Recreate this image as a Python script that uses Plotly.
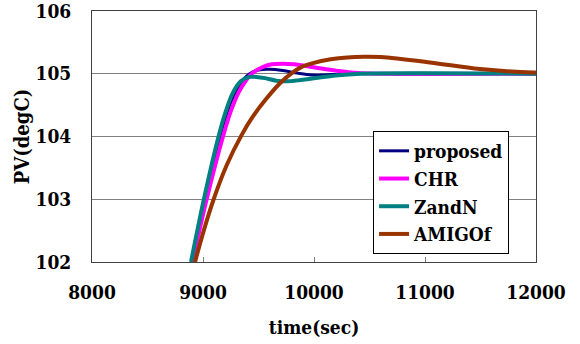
import plotly.graph_objects as go

# ---- data ----
proposed_t = [8897, 9020, 9155, 9220, 9290, 9360, 9420, 9500, 9600, 9720, 9850, 9980, 10100, 10300, 12000]
proposed_v = [102.0, 103.0, 104.0, 104.4, 104.7, 104.9, 105.0, 105.06, 105.07, 105.05, 105.01, 104.98, 104.98, 105.0, 105.0]

chr_t = [8905, 9033, 9180, 9250, 9320, 9390, 9439, 9530, 9620, 9720, 9820, 10009, 10200, 10400, 10600, 12000]
chr_v = [102.0, 103.0, 104.0, 104.4, 104.7, 104.9, 105.0, 105.1, 105.15, 105.16, 105.15, 105.1, 105.05, 105.01, 105.0, 105.0]

zandn_t = [8892, 9008, 9140, 9205, 9270, 9340, 9420, 9480, 9560, 9660, 9760, 9880, 10050, 10250, 10420, 12000]
zandn_v = [102.0, 103.0, 104.0, 104.4, 104.7, 104.88, 104.95, 104.95, 104.93, 104.89, 104.88, 104.9, 104.94, 104.98, 105.0, 105.0]

amigo_t = [8928, 9010, 9100, 9215, 9350, 9450, 9570, 9700, 9800, 9890, 9990, 10150, 10300, 10450, 10600, 11045, 11495, 11973, 12000]
amigo_v = [102.0, 102.52, 103.02, 103.55, 104.03, 104.32, 104.6, 104.86, 105.01, 105.11, 105.17, 105.23, 105.26, 105.27, 105.265, 105.18, 105.075, 105.02, 105.02]

x_ticks = [8000, 9000, 10000, 11000, 12000]
y_ticks = [102, 103, 104, 105, 106]

series = [
    ("proposed", proposed_t, proposed_v, "#000080", 3),
    ("CHR", chr_t, chr_v, "#FF00FF", 4),
    ("ZandN", zandn_t, zandn_v, "#008080", 4),
    ("AMIGOf", amigo_t, amigo_v, "#993300", 4),
]

FAM = "DejaVu Serif Condensed"
def F(size):
    return dict(family=FAM, color="black", size=size, weight="bold")

fig = go.Figure()
for name, t, v, c, w in series:
    fig.add_trace(go.Scatter(x=t, y=v, name=name, mode="lines",
                             line=dict(color=c, width=w, shape="spline", smoothing=1.0)))

fig.update_layout(
    width=580, height=344,
    margin=dict(l=92, r=44, t=11, b=82),
    paper_bgcolor="white", plot_bgcolor="white",
    font=F(19),
    showlegend=True,
    legend=dict(x=0.633, y=0.522, xanchor="left", yanchor="top",
                bgcolor="white", bordercolor="black", borderwidth=1,
                font=F(19), tracegroupgap=0, itemwidth=30),
)
fig.update_xaxes(range=[8000, 12000], tickvals=x_ticks, tickformat="d",
                 ticks="inside", ticklen=5, automargin=False,
                 tickcolor="#808080", showgrid=False, zeroline=False,
                 showline=True, linecolor="#404040", linewidth=1, mirror=True,
                 tickfont=F(19), ticklabeloverflow="allow", ticklabelstandoff=13,
                 title=dict(text="time(sec)", font=F(19), standoff=18))
fig.update_yaxes(range=[102, 106], tickvals=y_ticks, ticks="", showgrid=True,
                 automargin=False, ticklabeloverflow="allow",
                 gridcolor="#808080", gridwidth=1, zeroline=False,
                 showline=True, linecolor="#404040", linewidth=1, mirror=True,
                 tickfont=F(19), ticklabelstandoff=16,
                 title=dict(text="PV(degC)", font=F(20), standoff=0))

fig.write_html("out.html", config={"displayModeBar": False},
               post_script="document.body.style.margin='0';")
